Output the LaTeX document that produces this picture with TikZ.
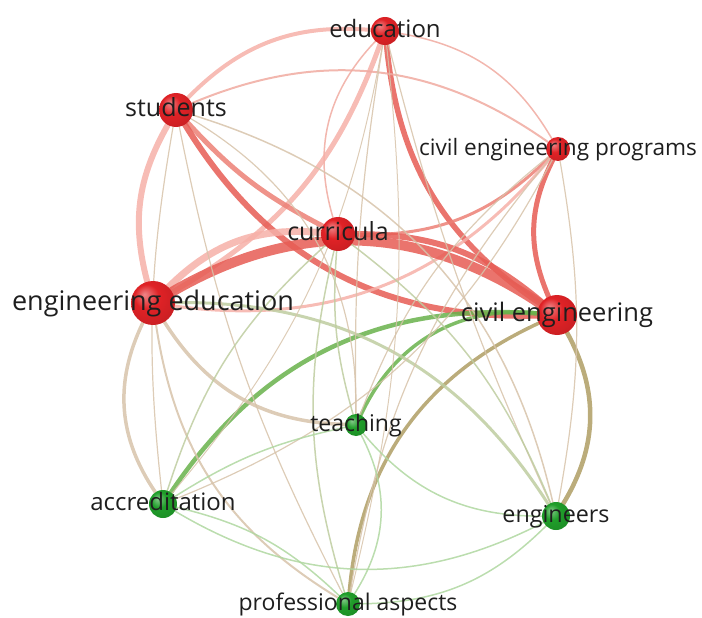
\documentclass[tikz,border=0pt]{standalone}
\usepackage{fontspec}
\setmainfont{Open Sans}
\definecolor{NR}{RGB}{224,34,38}
\definecolor{NG}{RGB}{32,158,42}
\definecolor{RR}{RGB}{230,92,84}
\definecolor{RM}{RGB}{236,128,118}
\definecolor{RL}{RGB}{246,176,168}
\definecolor{RT}{RGB}{240,170,160}
\definecolor{TN}{RGB}{215,195,170}
\definecolor{GT}{RGB}{190,205,160}
\definecolor{GG}{RGB}{105,178,75}
\definecolor{OL}{RGB}{175,158,100}
\definecolor{GL}{RGB}{175,215,160}
\definecolor{TX}{RGB}{30,30,30}
\pgfdeclareradialshading{redball}{\pgfpoint{-10bp}{10bp}}{color(0bp)=(NR!55!white); color(14bp)=(NR); color(34bp)=(NR!88!black); color(50bp)=(NR!88!black)}
\pgfdeclareradialshading{greenball}{\pgfpoint{-10bp}{10bp}}{color(0bp)=(NG!55!white); color(14bp)=(NG); color(34bp)=(NG!88!black); color(50bp)=(NG!88!black)}
\pgfdeclarelayer{links}
\pgfsetlayers{links,main}
\tikzset{link/.style={line cap=round, opacity=.85}}
\newcommand{\keyword}[7]{
\node[circle, minimum size=2*#4pt, inner sep=0pt, shading=#5] (#1) at (#2,#3) {};
\node[font=\fontsize{#6}{#6}\selectfont, text=TX, anchor=base, inner sep=0pt, yshift=-0.27*#6pt] (#1-txt) at (#2,#3) {#7};
}
\newcommand{\link}[5]{\begin{pgfonlayer}{links}\draw[link, color=#3, line width=#4pt] (#1) to[#5] (#2);\end{pgfonlayer}}

\begin{document}
\begin{tikzpicture}[x=1pt,y=-1pt]
\useasboundingbox (0,0) rectangle (702,618);
\keyword{ed}{385}{31}{14}{redball}{24}{education}
\keyword{st}{176}{110}{17}{redball}{25}{students}
\keyword{cep}{558}{149}{12}{redball}{22.6}{civil engineering programs}
\keyword{cu}{338}{234}{17}{redball}{25}{curricula}
\keyword{ee}{153}{303}{22}{redball}{27}{engineering education}
\keyword{ce}{557}{315}{20}{redball}{25.5}{civil engineering}
\keyword{te}{356}{425}{11}{greenball}{23}{teaching}
\keyword{ac}{163}{504}{14}{greenball}{24}{accreditation}
\keyword{en}{556}{516}{14}{greenball}{23.3}{engineers}
\keyword{pa}{348}{604}{12}{greenball}{23}{professional aspects}
\link{st}{ed}{RL}{4}{bend left=25}\link{ed}{cep}{RT}{1.5}{bend left=25}\link{ed}{cu}{RT}{1.5}{bend right=30}
\link{ed}{ee}{RL}{5}{bend left=20}\link{ed}{ce}{RR}{5.5}{bend right=25}\link{st}{cep}{RT}{2}{bend left=29}
\link{st}{cu}{RM}{5}{bend right=10}\link{ee}{st}{RL}{6}{bend left=22}\link{st}{ce}{RR}{6}{bend right=30}
\link{cep}{cu}{RM}{3}{bend left=23}\link{cep}{ee}{RL}{3}{bend left=29}\link{cep}{ce}{RR}{5}{bend right=25}
\link{ee}{cu}{RL}{7}{bend left=25}\link{cu}{ce}{RR}{6}{bend left=20}\link{ee}{ce}{RR}{10}{bend left=32}
\link{ac}{ce}{GG}{4.5}{bend left=30}\link{te}{ce}{GG}{3.5}{bend left=35}\link{pa}{ce}{OL}{3.5}{bend left=30}
\link{en}{ce}{OL}{4.5}{bend right=30}\link{ee}{ac}{TN}{3.5}{bend right=30}\link{ee}{te}{TN}{3.5}{bend right=28}
\link{ee}{en}{GT}{3}{bend left=29}\link{ee}{pa}{TN}{2}{bend right=25}\link{st}{en}{TN}{1.5}{bend left=30}
\link{st}{te}{TN}{1.2}{bend left=30}\link{st}{ac}{TN}{1.2}{bend right=8}\link{st}{pa}{TN}{1.2}{bend right=8}
\link{ed}{te}{TN}{1.2}{bend right=5}\link{ed}{en}{TN}{1.2}{bend right=5}\link{ed}{ac}{TN}{1}{bend left=15}
\link{ed}{pa}{TN}{1}{bend left=10}\link{cep}{te}{TN}{1.2}{bend right=15}\link{cep}{ac}{TN}{1.2}{bend left=20}
\link{cep}{en}{TN}{1.2}{bend left=10}\link{cep}{pa}{TN}{1.2}{bend right=15}\link{cu}{te}{GT}{1.5}{bend right=10}
\link{cu}{ac}{GT}{1.5}{bend right=15}\link{cu}{en}{GT}{1.5}{bend left=15}\link{cu}{pa}{GT}{1.5}{bend right=15}
\link{ac}{te}{GL}{1.5}{bend left=10}\link{te}{en}{GL}{1.5}{bend right=25}\link{te}{pa}{GL}{1.5}{bend left=30}
\link{ac}{en}{GL}{1.5}{bend right=29}\link{ac}{pa}{GL}{1.5}{bend left=15}\link{en}{pa}{GL}{1.5}{bend left=22}
\end{tikzpicture}
\end{document}
